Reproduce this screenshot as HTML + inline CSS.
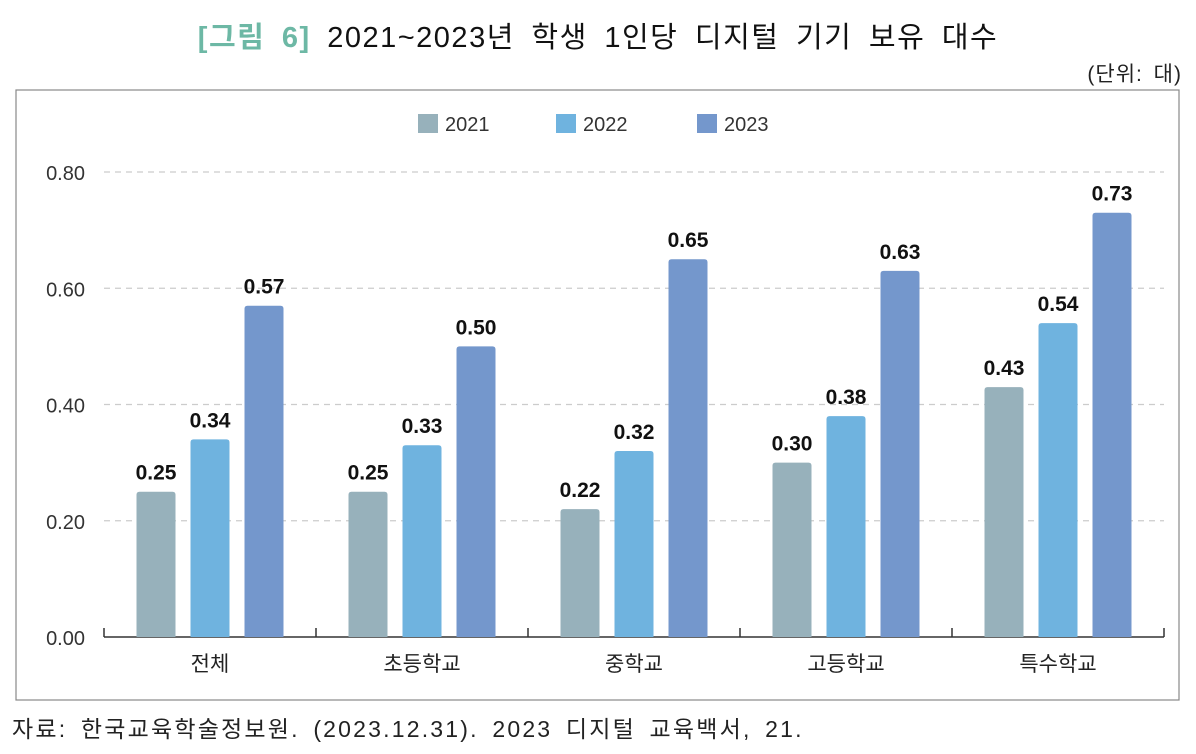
<!DOCTYPE html>
<html><head><meta charset="utf-8">
<style>
body{margin:0;width:1196px;height:754px;background:#fff;font-family:"Liberation Sans","Noto Sans CJK KR",sans-serif;overflow:hidden;position:relative}
.t{position:absolute;white-space:nowrap}
</style></head><body>
<div class="t" style="left:0;width:1196px;top:14px;text-align:center;font-size:29px;color:#111;letter-spacing:1.5px;word-spacing:7px"><span style="color:#6db8a5;font-weight:bold">[그림 6]</span> 2021~2023년 학생 1인당 디지털 기기 보유 대수</div>
<div class="t" style="right:14px;top:58px;font-size:21px;color:#222;letter-spacing:1px;word-spacing:4px">(단위: 대)</div>
<div class="t" style="left:12px;top:710px;font-size:23px;color:#222;letter-spacing:2.2px;word-spacing:5px">자료: 한국교육학술정보원. (2023.12.31). 2023 디지털 교육백서, 21.</div>
<svg class="t" style="left:0;top:0" width="1196" height="754">
<rect x="16" y="90" width="1163" height="610" fill="none" stroke="#888" stroke-width="1.2"/>
<g id="g"></g>
</svg>
<script>
const categories=["전체","초등학교","중학교","고등학교","특수학교"];
const seriesNames=["2021","2022","2023"];
const s2021=[0.25,0.25,0.22,0.30,0.43];
const s2022=[0.34,0.33,0.32,0.38,0.54];
const s2023=[0.57,0.50,0.65,0.63,0.73];
const yTicks=[0,0.2,0.4,0.6,0.8];
const colors=["#97b1bb","#6fb3df","#7497cc"];
const series=[s2021,s2022,s2023];
const NS="http://www.w3.org/2000/svg",g=document.getElementById('g');
const y0=637,yTop=172,xL=104,step=212;
const y=v=>y0-(v/0.8)*(y0-yTop);
function mk(t,a){const e=document.createElementNS(NS,t);for(const k in a)e.setAttribute(k,a[k]);g.appendChild(e);return e;}
yTicks.forEach(v=>{
 if(v>0){const l=mk('line',{x1:104,x2:1164,y1:y(v),y2:y(v),stroke:'#ccc','stroke-dasharray':'6,5','stroke-width':1.3});
 
 }
 const t=mk('text',{x:85,y:y(v)+8,'text-anchor':'end','font-size':20,fill:'#333'});t.textContent=v.toFixed(2);
 
 
});
const ax=mk('line',{x1:xL,x2:xL+step*5,y1:y0,y2:y0,stroke:'#333','stroke-width':1.5});


for(let i=0;i<=5;i++){const tk=mk('line',{x1:xL+i*step,x2:xL+i*step,y1:y0-9,y2:y0,stroke:'#333','stroke-width':1.5});
 
 }
const bw=39,gap=15;
categories.forEach((c,i)=>{
 const cx=xL+step*i+step/2;
 const t=mk('text',{x:cx,y:671,'text-anchor':'middle','font-size':21,fill:'#222'});t.textContent=c;
 
 
 series.forEach((s,j)=>{
  const x=cx+(j-1)*(bw+gap)-bw/2,v=s[i],yy=y(v);
  const r=mk('path',{d:`M${x},${y0}V${yy+3}Q${x},${yy} ${x+3},${yy}H${x+bw-3}Q${x+bw},${yy} ${x+bw},${yy+3}V${y0}Z`,fill:colors[j]});
  
  
  const l=mk('text',{x:x+bw/2,y:yy-12,'text-anchor':'middle','font-size':21,'font-weight':'bold',fill:'#111'});l.textContent=v.toFixed(2);
  
  
 });
});
const lx=[418,556,697];
seriesNames.forEach((n,j)=>{
 const r=mk('rect',{x:lx[j],y:114,width:20,height:19,fill:colors[j]});
 
 
 const t=mk('text',{x:lx[j]+27,y:131,'font-size':20,fill:'#333'});t.textContent=n;
 
 
});
</script>
</body></html>
